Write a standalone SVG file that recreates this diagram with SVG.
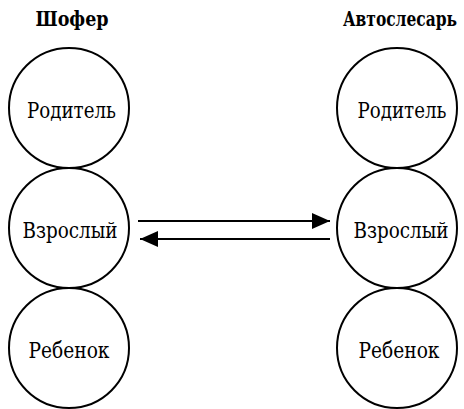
<svg xmlns="http://www.w3.org/2000/svg" width="464" height="409" viewBox="0 0 464 409">
  <style>
    .node circle { fill: #fff; stroke: #000; stroke-width: 2; }
    .label { font-family: "DejaVu Serif Condensed", "DejaVu Serif", serif; font-size: 22px; text-anchor: middle; fill: #000; }
    .title { font-family: "DejaVu Serif Condensed", "DejaVu Serif", serif; font-size: 20px; font-weight: bold; text-anchor: middle; fill: #000; }
    .edge { stroke: #000; stroke-width: 2; fill: none; }
  </style>
  <defs>
    <marker id="arrow" markerWidth="18" markerHeight="16" refX="18" refY="8" orient="auto" markerUnits="userSpaceOnUse">
      <path d="M0,0 L18,8 L0,16 Z" fill="#000"/>
    </marker>
  </defs>

  <rect width="464" height="409" fill="#fff"/>

  <text class="title" x="72" y="26" textLength="73" lengthAdjust="spacingAndGlyphs">Шофер</text>
  <text class="title" x="400" y="26" textLength="114" lengthAdjust="spacingAndGlyphs">Автослесарь</text>

  <g id="driver-parent" class="node">
    <circle cx="69" cy="108" r="60"/>
    <text class="label" x="71.5" y="118" textLength="89" lengthAdjust="spacingAndGlyphs">Родитель</text>
  </g>
  <g id="driver-adult" class="node">
    <circle cx="69" cy="228" r="60"/>
    <text class="label" x="70" y="238" textLength="95" lengthAdjust="spacingAndGlyphs">Взрослый</text>
  </g>
  <g id="driver-child" class="node">
    <circle cx="69" cy="348" r="60"/>
    <text class="label" x="69" y="358" textLength="81" lengthAdjust="spacingAndGlyphs">Ребенок</text>
  </g>

  <g id="mechanic-parent" class="node">
    <circle cx="397" cy="108" r="60"/>
    <text class="label" x="402" y="118" textLength="89" lengthAdjust="spacingAndGlyphs">Родитель</text>
  </g>
  <g id="mechanic-adult" class="node">
    <circle cx="397" cy="228" r="60"/>
    <text class="label" x="401" y="238" textLength="95" lengthAdjust="spacingAndGlyphs">Взрослый</text>
  </g>
  <g id="mechanic-child" class="node">
    <circle cx="397" cy="348" r="60"/>
    <text class="label" x="399" y="358" textLength="81" lengthAdjust="spacingAndGlyphs">Ребенок</text>
  </g>

  <g id="connectors">
    <line class="edge" x1="138" y1="221" x2="330" y2="221" marker-end="url(#arrow)"/>
    <line class="edge" x1="330" y1="239" x2="140" y2="239" marker-end="url(#arrow)"/>
  </g>
</svg>
